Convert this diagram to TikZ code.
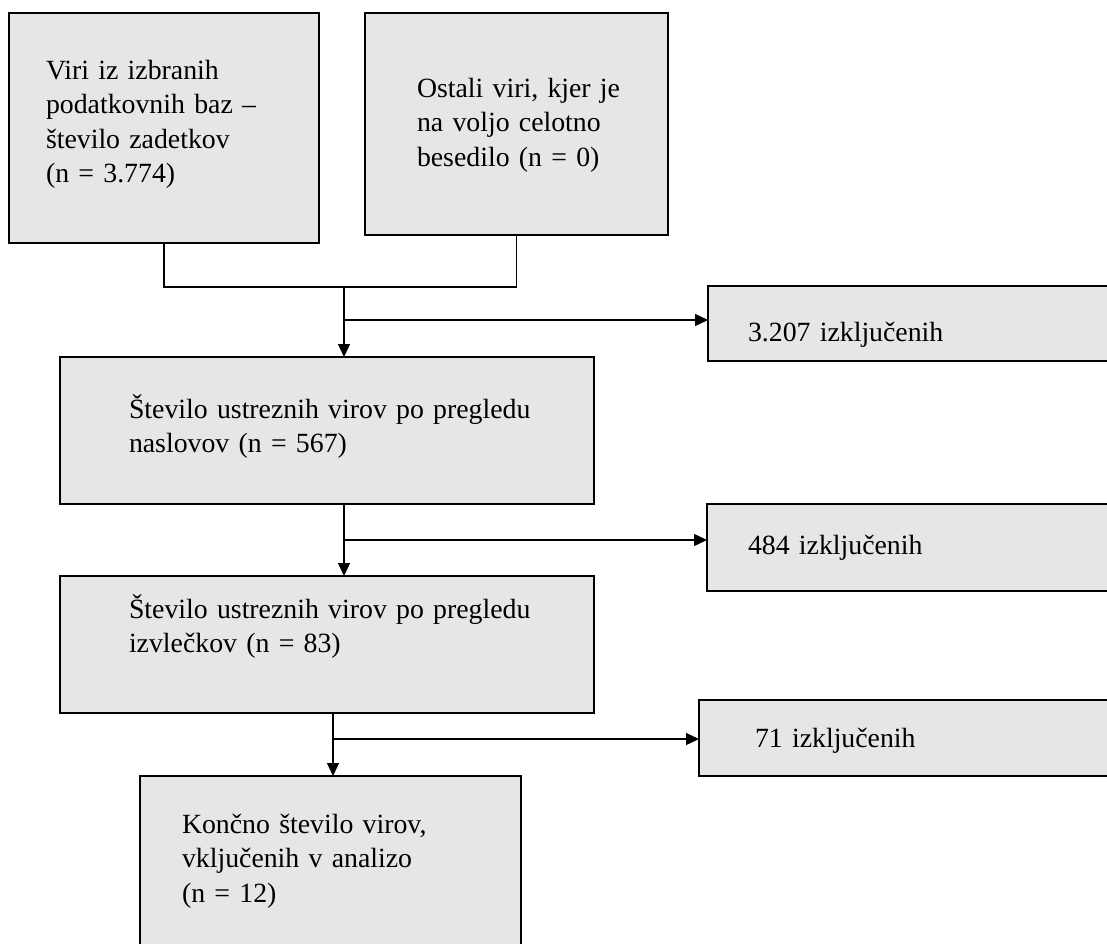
\documentclass[tikz,border=0pt]{standalone}
\usepackage{fontspec}
\setmainfont{Liberation Serif}
\usetikzlibrary{arrows.meta}
\definecolor{boxfill}{RGB}{230,230,230}
\begin{document}
\begin{tikzpicture}[x=1pt,y=-1pt,
  box/.style={draw=black, line width=2.4pt, fill=boxfill, inner sep=0pt, outer sep=0pt, anchor=north west},
  txt/.style={anchor=base west, inner sep=0pt, outer sep=0pt, align=left, text width=430pt,
              font=\fontsize{27.8}{34.5}\selectfont},
  conn/.style={line width=1.3pt},
  arr/.style={conn, -{Triangle[width=12pt,length=13pt]}}]
\useasboundingbox (0,0) rectangle (1107,943);
\clip (0,0) rectangle (1107,943);
% boxes
\node[box, minimum width=310pt, minimum height=230pt] (A) at (9,13) {};
\node[box, minimum width=303pt, minimum height=222pt] (B) at (365,13) {};
\node[box, minimum width=534pt, minimum height=147pt] (C) at (60,357) {};
\node[box, minimum width=450pt, minimum height=75pt] (D) at (708,286) {};
\node[box, minimum width=534pt, minimum height=137pt] (E) at (60,576) {};
\node[box, minimum width=450pt, minimum height=87pt] (F) at (707,504) {};
\node[box, minimum width=381pt, minimum height=220pt] (G) at (140,776) {};
\node[box, minimum width=450pt, minimum height=76pt] (H) at (699,700) {};
% texts
\node[txt] (tA) at (46,79) {Viri iz izbranih\\podatkovnih baz –\\število zadetkov\\(n = 3.774)};
\node[txt] (tB) at (417,97) {Ostali viri, kjer je\\na voljo celotno\\besedilo (n = 0)};
\node[txt] (tC) at (129,418) {Število ustreznih virov po pregledu\\naslovov (n = 567)};
\node[txt] (tD) at (748,341) {3.207 izključenih};
\node[txt] (tE) at (129,618) {Število ustreznih virov po pregledu\\izvlečkov (n = 83)};
\node[txt] (tF) at (748,554) {484 izključenih};
\node[txt] (tG) at (182,833) {Končno število virov,\\vključenih v analizo\\(n = 12)};
\node[txt] (tH) at (755,747) {71 izključenih};
% connectors
\coordinate (m1) at (344,287);
\coordinate (k1) at (344,320);
\coordinate (k2) at (344,540);
\coordinate (k3) at (333,739);
\draw[conn] (A.south) |- (m1) -| (B.south);
\draw[arr] (m1) -- (m1 |- C.north);
\draw[arr] (k1) -- (k1 -| D.west);
\draw[arr] (k2 |- C.south) -- (k2 |- E.north);
\draw[arr] (k2) -- (k2 -| F.west);
\draw[arr] (k3 |- E.south) -- (k3 |- G.north);
\draw[arr] (k3) -- (k3 -| H.west);
\end{tikzpicture}
\end{document}
